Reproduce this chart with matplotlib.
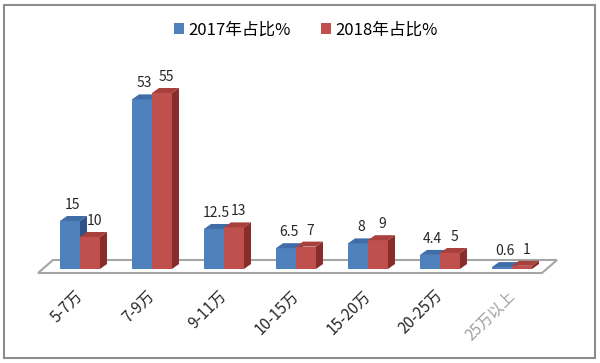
import matplotlib
matplotlib.use("Agg")
import matplotlib.pyplot as plt
from matplotlib.patches import Polygon, Rectangle, Patch

plt.rcParams['font.family'] = ['Noto Sans CJK SC', 'DejaVu Sans']

# 数据
categories = ["5-7万", "7-9万", "9-11万", "10-15万", "15-20万", "20-25万", "25万以上"]
share_2017 = [15, 53, 12.5, 6.5, 8, 4.4, 0.6]
share_2018 = [10, 55, 13, 7, 9, 5, 1]
series_names = ["2017年占比%", "2018年占比%"]

# 颜色: 正面, 顶面, 侧面
blue = ("#4F81BD", "#3F6DA8", "#2F5387")
red = ("#C0504D", "#A8403E", "#8A2C2A")

fig = plt.figure(figsize=(6, 3.63), dpi=100)
ax = fig.add_axes([0, 0, 1, 1])
px_cat = 72.0   # 每个类别的像素宽度
px_val = 3.2    # 每个单位的像素高度
ax.set_xlim(-80 / px_cat, 520 / px_cat)
ax.set_ylim(-94 / px_val, 269 / px_val)
ax.axis("off")

bw = 20 / px_cat          # 柱宽
ddx = 7 / px_cat          # 立体深度
ddy = 5 / px_val

# 底座
fx0, fx1 = -42 / px_cat, 462 / px_cat
fy0 = -4 / px_val
fdx, fdy = 15 / px_cat, 13 / px_val
ax.add_patch(Polygon([(fx0, fy0), (fx1, fy0), (fx1 + fdx, fy0 + fdy), (fx0 + fdx, fy0 + fdy)],
                     closed=True, facecolor="white", edgecolor="#A6A6A6", lw=1.5, zorder=1))


def bar3d(x, h, cols):
    front, top, side = cols
    ax.add_patch(Rectangle((x, 0), bw, h, facecolor=front, edgecolor="none", zorder=3))
    ax.add_patch(Polygon([(x, h), (x + bw, h), (x + bw + ddx, h + ddy), (x + ddx, h + ddy)],
                         closed=True, facecolor=top, edgecolor="none", zorder=3))
    ax.add_patch(Polygon([(x + bw, 0), (x + bw + ddx, ddy), (x + bw + ddx, h + ddy), (x + bw, h)],
                         closed=True, facecolor=side, edgecolor="none", zorder=3))


for i, (a, b) in enumerate(zip(share_2017, share_2018)):
    bar3d(i - bw, a, blue)
    bar3d(i, b, red)
    ax.text(i - bw / 2 + ddx / 2 - 0.01, a + 16 / px_val, f"{a:g}", ha="center", va="center",
            fontsize=10, color="#262626", zorder=5)
    ax.text(i + bw / 2 + ddx / 2 + 0.01, b + 16 / px_val, f"{b:g}", ha="center", va="center",
            fontsize=10, color="#262626", zorder=5)
    ax.text(i + 0.0, -24 / px_val, categories[i], rotation=45, rotation_mode="anchor",
            ha="right", va="center", fontsize=11,
            color="#A0A0A0" if i == len(categories) - 1 else "#262626")

handles = [Patch(facecolor=blue[0]), Patch(facecolor=red[0])]
fig.legend(handles, series_names, loc="center", bbox_to_anchor=(0.51, 0.917), ncol=2,
           frameon=False, handlelength=0.6, handleheight=0.6, columnspacing=1.8,
           handletextpad=0.25, fontsize=12)

fig.add_artist(Rectangle((0.007, 0.014), 0.985, 0.972, transform=fig.transFigure,
                         facecolor="none", edgecolor="#8C8C8C", lw=1.5))

fig.savefig("out.png", dpi=100)
